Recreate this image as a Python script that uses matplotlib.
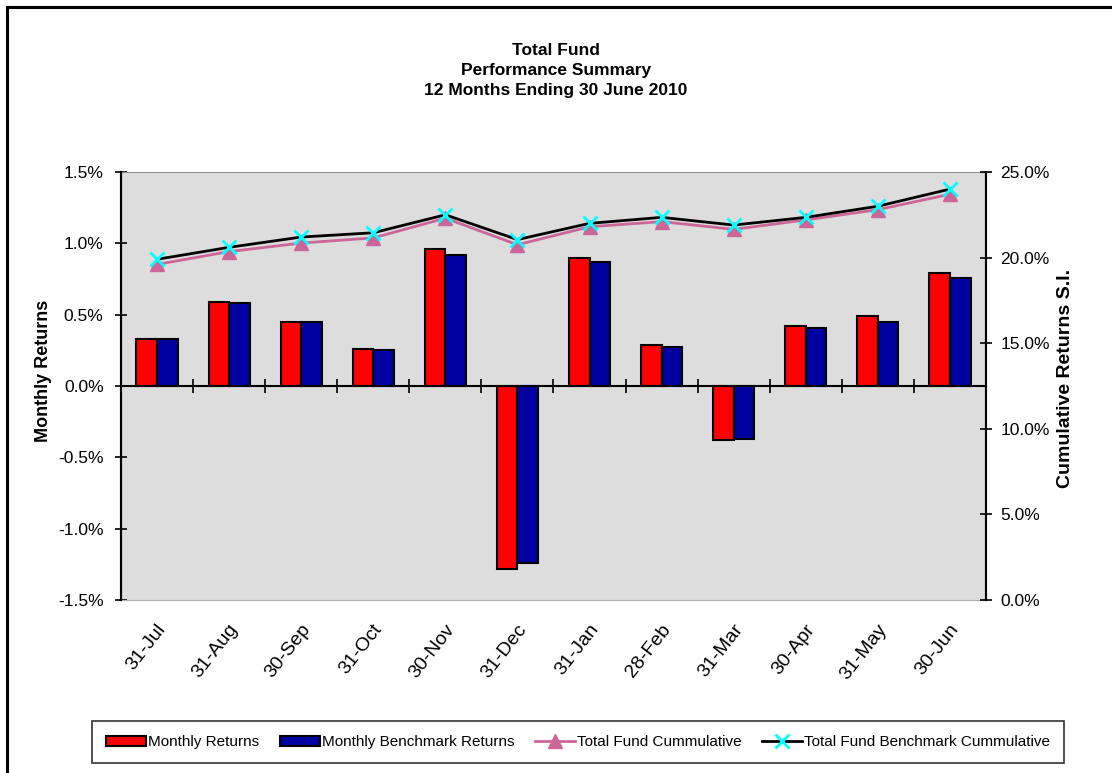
import numpy as np
import matplotlib
matplotlib.use('Agg')
import matplotlib.pyplot as plt
from matplotlib.patches import Rectangle
from matplotlib.ticker import FuncFormatter

plt.rcParams['font.family'] = ['Liberation Sans', 'DejaVu Sans']

# data (values in %)
months = ['31-Jul', '31-Aug', '30-Sep', '31-Oct', '30-Nov', '31-Dec',
          '31-Jan', '28-Feb', '31-Mar', '30-Apr', '31-May', '30-Jun']
monthly_returns = [0.33, 0.59, 0.45, 0.26, 0.96, -1.28,
                   0.90, 0.29, -0.38, 0.42, 0.49, 0.79]
benchmark_returns = [0.33, 0.58, 0.45, 0.25, 0.92, -1.24,
                     0.87, 0.27, -0.37, 0.41, 0.45, 0.76]
fund_cumulative = [19.6, 20.35, 20.85, 21.15, 22.3, 20.75,
                   21.8, 22.1, 21.65, 22.2, 22.8, 23.7]
bench_cumulative = [19.9, 20.6, 21.2, 21.45, 22.5, 21.05,
                    22.0, 22.35, 21.9, 22.35, 23.0, 24.0]

fig = plt.figure(figsize=(11.12, 7.73), dpi=100)
ax = fig.add_axes([0.1088, 0.2238, 0.7779, 0.5537])
ax.set_facecolor('#DDDDDD')

x = np.arange(len(months))
w = 0.285
ax.bar(x - w / 2, monthly_returns, w, color='#FF0000', edgecolor='black',
       linewidth=1.5, label='Monthly Returns', zorder=3)
ax.bar(x + w / 2, benchmark_returns, w, color='#0000A0', edgecolor='black',
       linewidth=1.5, label='Monthly Benchmark Returns', zorder=3)

# zero line with category separator ticks
ax.axhline(0, color='black', lw=1.5, zorder=4)
bounds = np.arange(len(months) + 1) - 0.5
ax.plot(bounds, np.zeros(len(bounds)), '|', color='black', ms=10, mew=1.2,
        zorder=4, clip_on=False)

ax.set_xlim(-0.5, len(months) - 0.5)
ax.set_ylim(-1.5, 1.5)
ax.set_yticks(np.arange(-1.5, 1.51, 0.5))
ax.yaxis.set_major_formatter(FuncFormatter(lambda v, p: f'{v:.1f}%'))
# labels sit a little right of the category centre, as in the original
ax.set_xticks(x + 0.08)
ax.set_xticklabels(months, rotation=52, ha='right', va='center',
                   rotation_mode='anchor', fontsize=14)
ax.tick_params(axis='x', length=0, pad=19)
ax.tick_params(axis='y', direction='inout', length=9, width=1.2,
               labelsize=12.5, pad=8)
for s in ['left', 'right']:
    ax.spines[s].set_color('black')
    ax.spines[s].set_linewidth(1.5)
ax.spines['top'].set_color('#909090')
ax.spines['bottom'].set_color('#B0B0B0')

ax2 = ax.twinx()
ax2.plot(x, fund_cumulative, color='#CC6699', lw=2, marker='^', ms=10,
         mfc='#CC6699', mec='#CC6699', label='Total Fund Cummulative', zorder=5)
ax2.plot(x, bench_cumulative, color='black', lw=2, marker='x', ms=10,
         mew=2, mfc='#00FFFF', mec='#00FFFF',
         label='Total Fund Benchmark Cummulative', zorder=6)
ax2.set_ylim(0, 25)
ax2.set_yticks(np.arange(0, 25.1, 5))
ax2.yaxis.set_major_formatter(FuncFormatter(lambda v, p: f'{v:.1f}%'))
ax2.tick_params(axis='y', direction='inout', length=9, width=1.2,
                labelsize=12.5, pad=6)
for s in ['left', 'right']:
    ax2.spines[s].set_color('black')
    ax2.spines[s].set_linewidth(1.5)
ax2.spines['top'].set_visible(False)
ax2.spines['bottom'].set_visible(False)

fig.text(0.039, 0.52, 'Monthly Returns', rotation=90, ha='center',
         va='center', fontsize=13, fontweight='bold')
fig.text(0.958, 0.51, 'Cumulative Returns S.I.', rotation=90, ha='center',
         va='center', fontsize=14, fontweight='bold')

fig.text(0.50, 0.909, 'Total Fund\nPerformance Summary\n12 Months Ending 30 June 2010',
         ha='center', va='center', fontsize=12.5, fontweight='bold',
         linespacing=1.4)

h1, l1 = ax.get_legend_handles_labels()
h2, l2 = ax2.get_legend_handles_labels()
leg = fig.legend(h1 + h2, l1 + l2, loc='center', bbox_to_anchor=(0.52, 0.04),
                 ncol=4, fontsize=11, frameon=True, fancybox=False,
                 edgecolor='black', handlelength=2.6, handleheight=0.6,
                 handletextpad=0.15, columnspacing=1.35, borderpad=0.9)
leg.get_frame().set_linewidth(1.2)

# outer chart border (runs off the right and bottom edges)
fig.patches.append(Rectangle((0.0063, -0.05), 1.05, 1.041, transform=fig.transFigure,
                             fill=False, edgecolor='black', lw=2.2, clip_on=False))

fig.savefig('out.png', dpi=100)
